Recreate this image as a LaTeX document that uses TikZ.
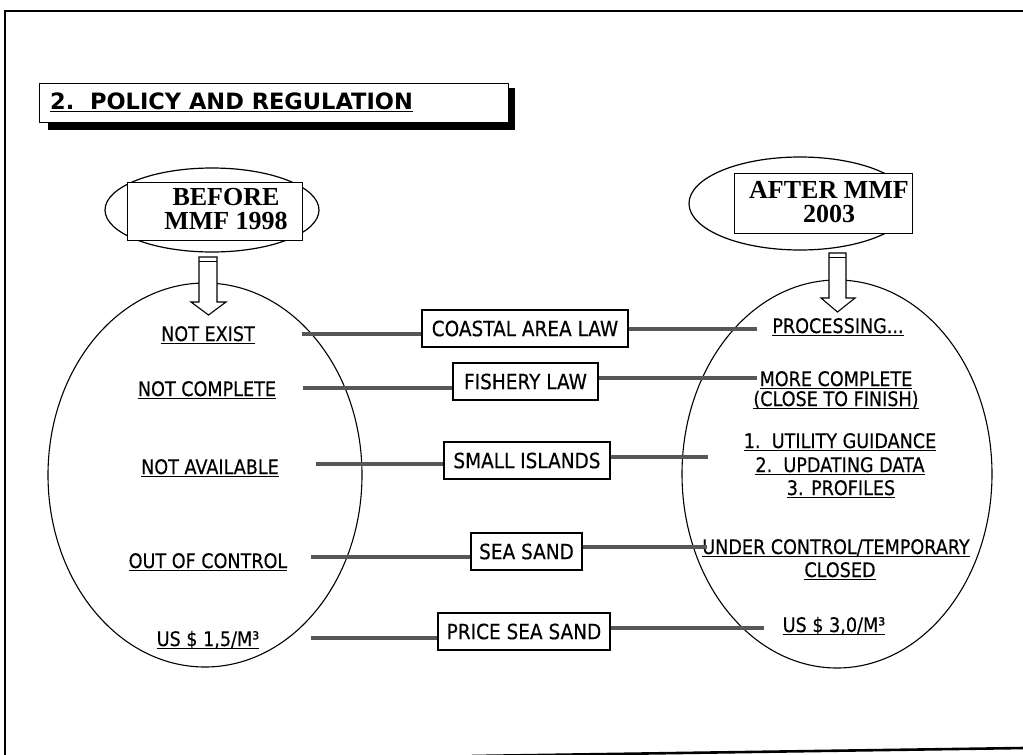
\documentclass[tikz,border=0pt]{standalone}
\usepackage{fontspec}
\setmainfont{DejaVu Sans}[FakeStretch=0.88, FakeBold=0.35]
\newfontfamily\headfont{DejaVu Sans}[FakeStretch=1.0]
\newfontfamily\eraserif{Liberation Serif}
\usetikzlibrary{shapes.geometric}

% underline drawn a fixed distance under the baseline
\newcommand{\ulabel}[1]{\setbox0\hbox{#1}\rlap{\rule[-3.2pt]{\wd0}{1.4pt}}\box0}
\newcommand{\lblfont}{\fontsize{20}{24}\selectfont}
\newcommand{\boxfont}{\fontsize{21}{25}\selectfont}

\tikzset{
  lbl/.style={font=\lblfont, inner sep=0pt, anchor=base},
  topic/.style={draw, line width=1.3pt, fill=white, font=\boxfont, inner sep=0pt},
  link/.style={line width=3.4pt, draw=black!66},
  era/.style={ellipse, draw, line width=1.2pt, fill=white, inner sep=0pt},
  erabox/.style={draw, line width=0.8pt, fill=white, inner sep=0pt},
  eratext/.style={inner sep=0pt, align=center,
    font=\eraserif\bfseries\fontsize{26}{24.5}\selectfont},
  bigoval/.style={ellipse, draw, line width=1.1pt, inner sep=0pt},
  downarrow/.style={draw, line width=1.1pt, fill=white, line join=miter}
}

\begin{document}
\begin{tikzpicture}[x=1pt, y=-1pt]
\useasboundingbox (0,0) rectangle (1023,755);

% page frame
\draw[line width=2.6pt] (5,756) -- (5,11) -- (1024,11);
\draw[line width=2.6pt] (472,756) -- (1024,748);

% section title with drop shadow
\fill (48,121) rectangle (515,130);
\fill (507,88) rectangle (515,130);
\draw[line width=1pt, fill=white] (39,83) rectangle (508,122);
\node[inner sep=0pt, anchor=base west, font=\headfont\bfseries\fontsize{22.5}{24}\selectfont]
  (title) at (50,109) {\ulabel{2.\ \ POLICY AND REGULATION}};

% large ovals
\node[bigoval, minimum width=314pt, minimum height=384pt] (bigl) at (205,475) {};
\node[bigoval, minimum width=310pt, minimum height=388pt] (bigr) at (837,474) {};

% era headers
\node[era, minimum width=214pt, minimum height=84pt] (ebefore) at (212,210) {};
\node[erabox, minimum width=175pt, minimum height=58pt] (bbefore) at (214.5,211) {};
\node[eratext] (tbefore) at (226,209) {BEFORE\\MMF 1998};
\node[era, minimum width=222pt, minimum height=93pt] (eafter) at (800,203.5) {};
\node[erabox, minimum width=178pt, minimum height=60pt] (bafter) at (823,203) {};
\node[eratext] (tafter) at (829,202) {AFTER MMF\\2003};

% block arrows
\draw[downarrow] (199,257) -- (217,257) -- (217,302) -- (226,302) -- (208.5,315)
  -- (191,302) -- (199,302) -- cycle;
\draw[line width=1pt] (199,261.5) -- (217,261.5);
\draw[downarrow] (829,253) -- (846,253) -- (846,298) -- (855,298) -- (837.5,312)
  -- (821,298) -- (829,298) -- cycle;
\draw[line width=1pt] (829,257.5) -- (846,257.5);

% left column
\node[lbl] (l1) at (208,341) {\ulabel{NOT EXIST}};
\node[lbl] (l2) at (207,396) {\ulabel{NOT COMPLETE}};
\node[lbl] (l3) at (210,474) {\ulabel{NOT AVAILABLE}};
\node[lbl] (l4) at (208,568) {\ulabel{OUT OF CONTROL}};
\node[lbl] (l5) at (208,646) {\ulabel{US \$ 1,5/M³}};

% right column
\node[lbl] (r1) at (838,333) {\ulabel{PROCESSING...}};
\node[lbl] (r2a) at (836,386) {\ulabel{MORE COMPLETE}};
\node[lbl] (r2b) at (836,406) {\ulabel{(CLOSE TO FINISH)}};
\node[lbl] (r3a) at (840,448) {\ulabel{1.\ \ UTILITY GUIDANCE}};
\node[lbl] (r3b) at (840,472) {\ulabel{2.\ \ UPDATING DATA}};
\node[lbl] (r3c) at (841,495) {\ulabel{3. PROFILES}};
\node[lbl] (r4a) at (836,554) {\ulabel{UNDER CONTROL/TEMPORARY}};
\node[lbl] (r4b) at (840,577) {\ulabel{CLOSED}};
\node[lbl] (r5) at (834,632) {\ulabel{US \$ 3,0/M³}};

% topics in the middle
\node[topic, minimum width=206pt, minimum height=37pt] (t1) at (525,328.5) {COASTAL AREA LAW};
\node[topic, minimum width=145pt, minimum height=37pt] (t2) at (525.5,381.5) {FISHERY LAW};
\node[topic, minimum width=166pt, minimum height=37pt] (t3) at (527,460.5) {SMALL ISLANDS};
\node[topic, minimum width=111pt, minimum height=37pt] (t4) at (526.5,551.5) {SEA SAND};
\node[topic, minimum width=172pt, minimum height=37pt] (t5) at (524,631.5) {PRICE SEA SAND};

% connector ends
\coordinate (a1) at (302,334);
\coordinate (b1) at (757,329);
\coordinate (a2) at (303,388);
\coordinate (b2) at (757,378);
\coordinate (a3) at (316,464);
\coordinate (b3) at (708,457);
\coordinate (a4) at (311,557);
\coordinate (b4) at (707,547);
\coordinate (a5) at (311,638);
\coordinate (b5) at (764,628);

% connectors
\draw[link] (a1) -- (a1 -| t1.west);
\draw[link] (b1 -| t1.east) -- (b1);
\draw[link] (a2) -- (a2 -| t2.west);
\draw[link] (b2 -| t2.east) -- (b2);
\draw[link] (a3) -- (a3 -| t3.west);
\draw[link] (b3 -| t3.east) -- (b3);
\draw[link] (a4) -- (a4 -| t4.west);
\draw[link] (b4 -| t4.east) -- (b4);
\draw[link] (a5) -- (a5 -| t5.west);
\draw[link] (b5 -| t5.east) -- (b5);
\end{tikzpicture}
\end{document}
